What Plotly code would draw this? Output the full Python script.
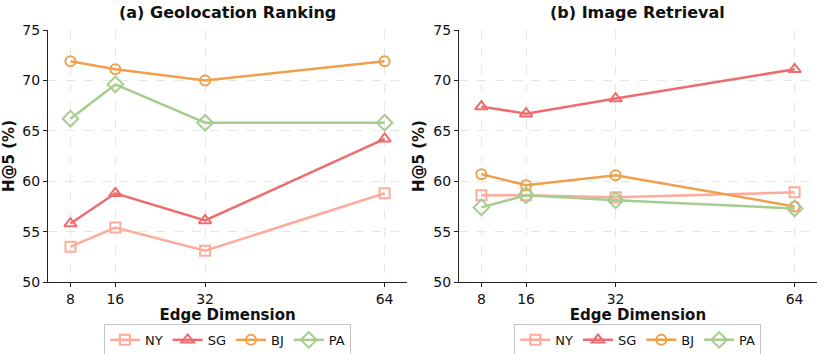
import plotly.graph_objects as go
from plotly.subplots import make_subplots

# ── Data ──────────────────────────────────────────────────────────────────────
EDGE_DIMS = [8, 16, 32, 64]
CITIES    = ["NY", "SG", "BJ", "PA"]

GEO_NY = [53.5, 55.4, 53.1, 58.8]
GEO_SG = [55.8, 58.8, 56.1, 64.2]
GEO_BJ = [71.9, 71.1, 70.0, 71.9]
GEO_PA = [66.2, 69.6, 65.8, 65.8]

IMG_NY = [58.6, 58.6, 58.4, 58.9]
IMG_SG = [67.4, 66.7, 68.2, 71.1]
IMG_BJ = [60.7, 59.6, 60.6, 57.5]
IMG_PA = [57.4, 58.6, 58.1, 57.3]

Y_TICKS = [50, 55, 60, 65, 70, 75]

# ── Style ─────────────────────────────────────────────────────────────────────
COLORS  = {"NY": "#FFAA9A", "SG": "#EE6B6E", "BJ": "#F0A04B", "PA": "#A5CD8F"}
SYMBOLS = {"NY": "square-open", "SG": "triangle-up-open", "BJ": "circle-open", "PA": "diamond-open"}
SIZES   = {"NY": 10, "SG": 11, "BJ": 10, "PA": 12}
FONT    = "DejaVu Sans"

fig = make_subplots(rows=1, cols=2, horizontal_spacing=0.06)

panels = [
    (1, "legend",  {"NY": GEO_NY, "SG": GEO_SG, "BJ": GEO_BJ, "PA": GEO_PA}),
    (2, "legend2", {"NY": IMG_NY, "SG": IMG_SG, "BJ": IMG_BJ, "PA": IMG_PA}),
]

for col, leg, series in panels:
    for city in CITIES:
        fig.add_trace(go.Scatter(
            x=EDGE_DIMS, y=series[city], name=city, mode="lines+markers",
            line=dict(color=COLORS[city], width=2.5),
            marker=dict(symbol=SYMBOLS[city], size=SIZES[city], color=COLORS[city],
                        line=dict(color=COLORS[city], width=2)),
            legend=leg,
        ), row=1, col=col)

axis_common = dict(
    showline=True, linecolor="#222", linewidth=1.2, ticks="outside", ticklen=4,
    tickcolor="#222", showgrid=True, gridcolor="#e6e6e6", griddash="dash",
    gridwidth=1, zeroline=False, mirror=False, automargin=False,
    tickfont=dict(family=FONT, size=14, color="#111"),
)

for col in (1, 2):
    fig.update_xaxes(
        **axis_common, range=[4, 68], tickvals=EDGE_DIMS,
        title=dict(text="<b>Edge Dimension</b>", font=dict(family=FONT, size=15, color="#111"), standoff=0),
        row=1, col=col,
    )
    fig.update_yaxes(
        **axis_common, range=[50, 75], tickvals=Y_TICKS,
        title=dict(text="<b>H@5 (%)</b>", font=dict(family=FONT, size=15, color="#111"), standoff=4),
        row=1, col=col,
    )

legend_common = dict(
    orientation="h", yref="container", y=0.085, yanchor="top",
    bordercolor="#c4c4c4", borderwidth=1, font=dict(family=FONT, size=13),
    itemwidth=30, tracegroupgap=0,
)

fig.update_layout(
    width=824, height=354,
    plot_bgcolor="white", paper_bgcolor="white",
    font=dict(family=FONT, color="#111"),
    margin=dict(l=0, r=0, t=30, b=72),
    xaxis=dict(domain=[0.0583, 0.494]),
    xaxis2=dict(domain=[0.557, 0.9915]),
    legend=dict(**legend_common, x=0.276, xanchor="center"),
    legend2=dict(**legend_common, x=0.774, xanchor="center"),
    annotations=[
        dict(text="<b>(a) Geolocation Ranking</b>", x=0.276, y=1, xref="paper", yref="paper",
             xanchor="center", yanchor="bottom", yshift=6, showarrow=False,
             font=dict(family=FONT, size=16, color="#111")),
        dict(text="<b>(b) Image Retrieval</b>", x=0.774, y=1, xref="paper", yref="paper",
             xanchor="center", yanchor="bottom", yshift=6, showarrow=False,
             font=dict(family=FONT, size=16, color="#111")),
    ],
)

# drop the browser's default body margin so the figure sits at the page corner
fig.write_html(
    "out.html",
    config={"displayModeBar": False},
    post_script="document.body.style.margin='0';",
)
